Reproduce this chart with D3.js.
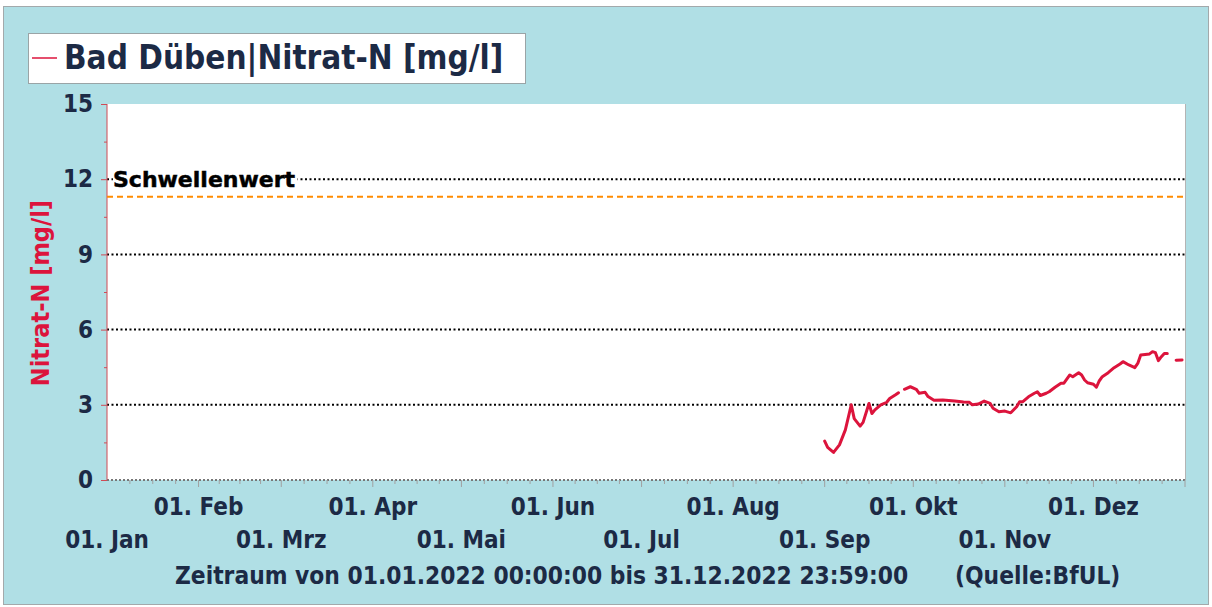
<!DOCTYPE html>
<head>
    <meta charset="utf-8">
    <title>Bad Düben Nitrat-N</title>
    <script src="https://d3js.org/d3.v7.min.js"></script>
</head>
<style>
body {
  margin: 0;
  background: #fff;
  font-family: "DejaVu Sans Condensed", "DejaVu Sans", sans-serif;
}
</style>
<body>
    <svg></svg>
</body>

<script>

    // Data
    var dates = ["2022-09-01","2022-09-02","2022-09-04","2022-09-06","2022-09-08","2022-09-10","2022-09-11",
        "2022-09-13","2022-09-14","2022-09-16","2022-09-17","2022-09-18","2022-09-20","2022-09-22","2022-09-23",
        "2022-09-25","2022-09-26","2022-09-27","2022-09-28","2022-09-30","2022-10-02","2022-10-03","2022-10-05",
        "2022-10-06","2022-10-08","2022-10-11","2022-10-15","2022-10-18","2022-10-20","2022-10-21","2022-10-23",
        "2022-10-25","2022-10-27","2022-10-28","2022-10-30","2022-11-01","2022-11-03","2022-11-05","2022-11-06",
        "2022-11-07","2022-11-09","2022-11-11","2022-11-12","2022-11-13","2022-11-15","2022-11-16","2022-11-18",
        "2022-11-20","2022-11-21","2022-11-23","2022-11-24","2022-11-26","2022-11-27","2022-11-28","2022-11-29",
        "2022-12-01","2022-12-02","2022-12-03","2022-12-04","2022-12-06","2022-12-08","2022-12-10","2022-12-11",
        "2022-12-13","2022-12-15","2022-12-16","2022-12-17","2022-12-20","2022-12-21","2022-12-22","2022-12-23",
        "2022-12-24","2022-12-25","2022-12-26","2022-12-27","2022-12-29","2022-12-31"];
    var nitrat = [1.55,1.30,1.10,1.40,2.00,3.00,2.45,
        2.15,2.30,3.05,2.65,2.80,3.00,3.10,3.25,
        3.40,3.48,null,3.62,3.72,3.62,3.46,3.50,
        3.33,3.18,3.19,3.15,3.11,3.10,3.00,3.03,
        3.15,3.06,2.86,2.72,2.75,2.68,2.92,3.12,
        3.12,3.32,3.46,3.52,3.37,3.46,3.52,3.70,
        3.86,3.86,4.19,4.12,4.28,4.19,3.99,3.88,
        3.82,3.70,3.96,4.12,4.28,4.48,4.63,4.72,
        4.59,4.48,4.65,4.99,5.03,5.12,5.08,4.76,
        4.92,5.05,5.05,null,4.78,4.79];
    var schwellenwert = 11.3;
    var yTicks = [0, 3, 6, 9, 12, 15];
    var monthNames = ["Jan","Feb","Mrz","Apr","Mai","Jun","Jul","Aug","Sep","Okt","Nov","Dez"];
    var legendText = "Bad Düben|Nitrat-N [mg/l]";
    var yTitle = "Nitrat-N [mg/l]";
    var footerText = "Zeitraum von 01.01.2022 00:00:00 bis 31.12.2022 23:59:00";
    var sourceText = "(Quelle:BfUL)";

    // Layout
    var width = 1212;
    var height = 607;
    var plot = {left: 107, right: 1185, top: 104, bottom: 480};
    var navy = "#1c2a45";
    var red = "#dc143c";

    var svg = d3.select('svg')
        .attr('width', width)
        .attr('height', height);

    // Outer frame
    svg.append("rect")
        .attr("x", 3.5).attr("y", 6.5)
        .attr("width", 1205).attr("height", 598)
        .attr("fill", "#b0dfe5")
        .attr("stroke", "#a3a9ab");

    var parse = d3.timeParse("%Y-%m-%d");
    var data = dates.map(function (d, i) { return {date: parse(d), value: nitrat[i]}; });

    var x = d3.scaleTime()
        .domain([new Date(2022, 0, 1), new Date(2023, 0, 1)])
        .range([plot.left, plot.right]);
    var y = d3.scaleLinear()
        .domain([0, 15])
        .range([plot.bottom, plot.top]);

    // Plot background
    svg.append("rect")
        .attr("x", plot.left).attr("y", plot.top)
        .attr("width", plot.right - plot.left).attr("height", plot.bottom - plot.top)
        .attr("fill", "#fff");
    svg.append("line")
        .attr("x1", plot.right + 0.5).attr("x2", plot.right + 0.5)
        .attr("y1", plot.top).attr("y2", plot.bottom)
        .attr("stroke", "#b4b4b4");

    // Gridlines
    svg.append("g").selectAll("line")
        .data(yTicks.filter(function (d) { return d > 0 && d < 15; }))
        .enter().append("line")
        .attr("x1", plot.left).attr("x2", plot.right)
        .attr("y1", function (d) { return y(d); }).attr("y2", function (d) { return y(d); })
        .attr("stroke", "#000")
        .attr("stroke-width", 2)
        .attr("stroke-dasharray", "2,2.5");

    // X axis: dotted baseline + month ticks (major) and quarter-month ticks (minor)
    svg.append("line")
        .attr("x1", plot.left).attr("x2", plot.right)
        .attr("y1", plot.bottom).attr("y2", plot.bottom)
        .attr("stroke", "#777")
        .attr("stroke-width", 2)
        .attr("stroke-dasharray", "2,2");

    var months = d3.timeMonth.range(new Date(2022, 0, 1), new Date(2023, 0, 2));
    var minorTicks = [];
    months.slice(0, 12).forEach(function (m) {
        var a = x(m), b = x(d3.timeMonth.offset(m, 1));
        for (var k = 1; k < 4; k++) minorTicks.push(a + (b - a) * k / 4);
    });
    svg.append("g").selectAll("line")
        .data(minorTicks)
        .enter().append("line")
        .attr("x1", function (d) { return d; }).attr("x2", function (d) { return d; })
        .attr("y1", plot.bottom).attr("y2", plot.bottom + 4)
        .attr("stroke", "#a0a0a0");
    svg.append("g").selectAll("line")
        .data(months.slice(1))
        .enter().append("line")
        .attr("x1", function (d) { return x(d); }).attr("x2", function (d) { return x(d); })
        .attr("y1", plot.bottom).attr("y2", plot.bottom + 7)
        .attr("stroke", "#a0a0a0");

    // Month labels in two staggered rows
    svg.append("g").selectAll("text")
        .data(months.slice(0, 12))
        .enter().append("text")
        .attr("x", function (d) { return x(d); })
        .attr("y", function (d, i) { return i % 2 ? 515 : 548; })
        .attr("text-anchor", "middle")
        .attr("font-size", 24)
        .attr("font-weight", "bold")
        .attr("fill", navy)
        .text(function (d, i) { return "01. " + monthNames[i]; });

    // Y axis (red) with ticks
    var yAxis = d3.axisLeft(y)
        .tickValues(d3.range(0, 15.01, 1.5))
        .tickSize(6)
        .tickFormat(function (d) { return yTicks.indexOf(d) >= 0 ? d : ""; });
    var ya = svg.append("g")
        .attr("transform", "translate(" + plot.left + ",0)")
        .call(yAxis);
    ya.select(".domain").attr("stroke", "#d04a55").attr("d", "M0," + plot.top + "V" + plot.bottom);
    ya.selectAll(".tick line")
        .attr("stroke", "#d04a55")
        .attr("x2", function (d) { return yTicks.indexOf(d) >= 0 ? -6 : -3; });
    ya.selectAll(".tick text")
        .attr("x", -14)
        .attr("font-family", "DejaVu Sans Condensed, DejaVu Sans, sans-serif")
        .attr("font-size", 24)
        .attr("font-weight", "bold")
        .attr("fill", navy);

    // Threshold
    svg.append("line")
        .attr("x1", plot.left).attr("x2", plot.right)
        .attr("y1", y(schwellenwert)).attr("y2", y(schwellenwert))
        .attr("stroke", "#ff8c00")
        .attr("stroke-width", 2)
        .attr("stroke-dasharray", "6,4");
    var sw = svg.append("text")
        .attr("x", 113).attr("y", 187)
        .attr("font-family", "DejaVu Sans, sans-serif")
        .attr("font-size", 22)
        .attr("font-weight", "bold")
        .attr("fill", "#000")
        .attr("stroke", "#000")
        .attr("stroke-width", 0.5)
        .text("Schwellenwert");
    var bb = sw.node().getBBox();
    svg.insert("rect", function () { return sw.node(); })
        .attr("x", bb.x).attr("y", y(12) - 2)
        .attr("width", bb.width + 2).attr("height", 4)
        .attr("fill", "#fff");

    // Data line
    var line = d3.line()
        .defined(function (d) { return d.value != null; })
        .x(function (d) { return x(d.date); })
        .y(function (d) { return y(d.value); });
    svg.append("path")
        .datum(data)
        .attr("d", line)
        .attr("fill", "none")
        .attr("stroke", red)
        .attr("stroke-width", 3)
        .attr("stroke-linejoin", "round")
        .attr("stroke-linecap", "round");

    // Y title
    svg.append("text")
        .attr("transform", "translate(49,293)rotate(-90)")
        .attr("text-anchor", "middle")
        .attr("font-size", 25)
        .attr("font-weight", "bold")
        .attr("fill", red)
        .text(yTitle);

    // Legend
    svg.append("rect")
        .attr("x", 28.5).attr("y", 33.5)
        .attr("width", 497).attr("height", 50)
        .attr("fill", "#fff")
        .attr("stroke", "#9aa4a6");
    svg.append("line")
        .attr("x1", 32).attr("x2", 57)
        .attr("y1", 58).attr("y2", 58)
        .attr("stroke", red)
        .attr("stroke-width", 1.5);
    svg.append("text")
        .attr("x", 64).attr("y", 69)
        .attr("font-size", 33)
        .attr("font-weight", "bold")
        .attr("fill", navy)
        .text(legendText);

    // Footer
    svg.append("text")
        .attr("x", 175).attr("y", 584)
        .attr("font-size", 24.3)
        .attr("font-weight", "bold")
        .attr("fill", navy)
        .text(footerText);
    svg.append("text")
        .attr("x", 955).attr("y", 584)
        .attr("font-size", 24.3)
        .attr("font-weight", "bold")
        .attr("fill", navy)
        .text(sourceText);

</script>
